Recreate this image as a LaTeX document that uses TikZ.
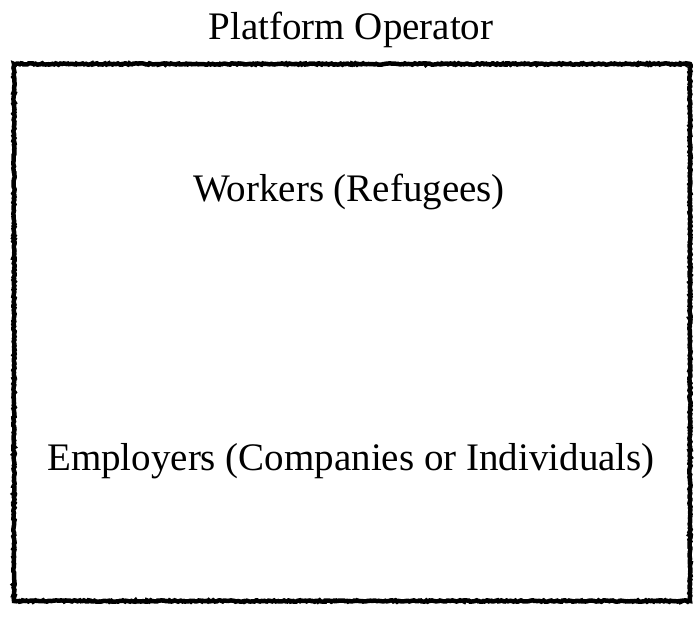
\documentclass[tikz,border=0pt]{standalone}
\usepackage{fontspec}
\setmainfont{Liberation Serif}
\usetikzlibrary{decorations.pathmorphing}
\tikzset{
  label text/.style={anchor=base, inner sep=0pt, font=\fontsize{39}{44}\selectfont, text=black},
  rough border/.style={draw=black, line width=4.5pt, line join=miter,
    decorate, decoration={random steps, segment length=1.5pt, amplitude=0.7pt}}
}
\begin{document}
\begin{tikzpicture}[x=1pt, y=-1pt]
\useasboundingbox (0,0) rectangle (700,619);
\node[label text] (title) at (351,39) {Platform Operator};
\coordinate (tl) at (14,64);
\coordinate (br) at (690,601);
\draw[rough border] (tl) rectangle (br);
\node[label text] (workers) at (349,201) {Workers (Refugees)};
\node[label text] (employers) at (351,470) {Employers (Companies or Individuals)};
\end{tikzpicture}
\end{document}
